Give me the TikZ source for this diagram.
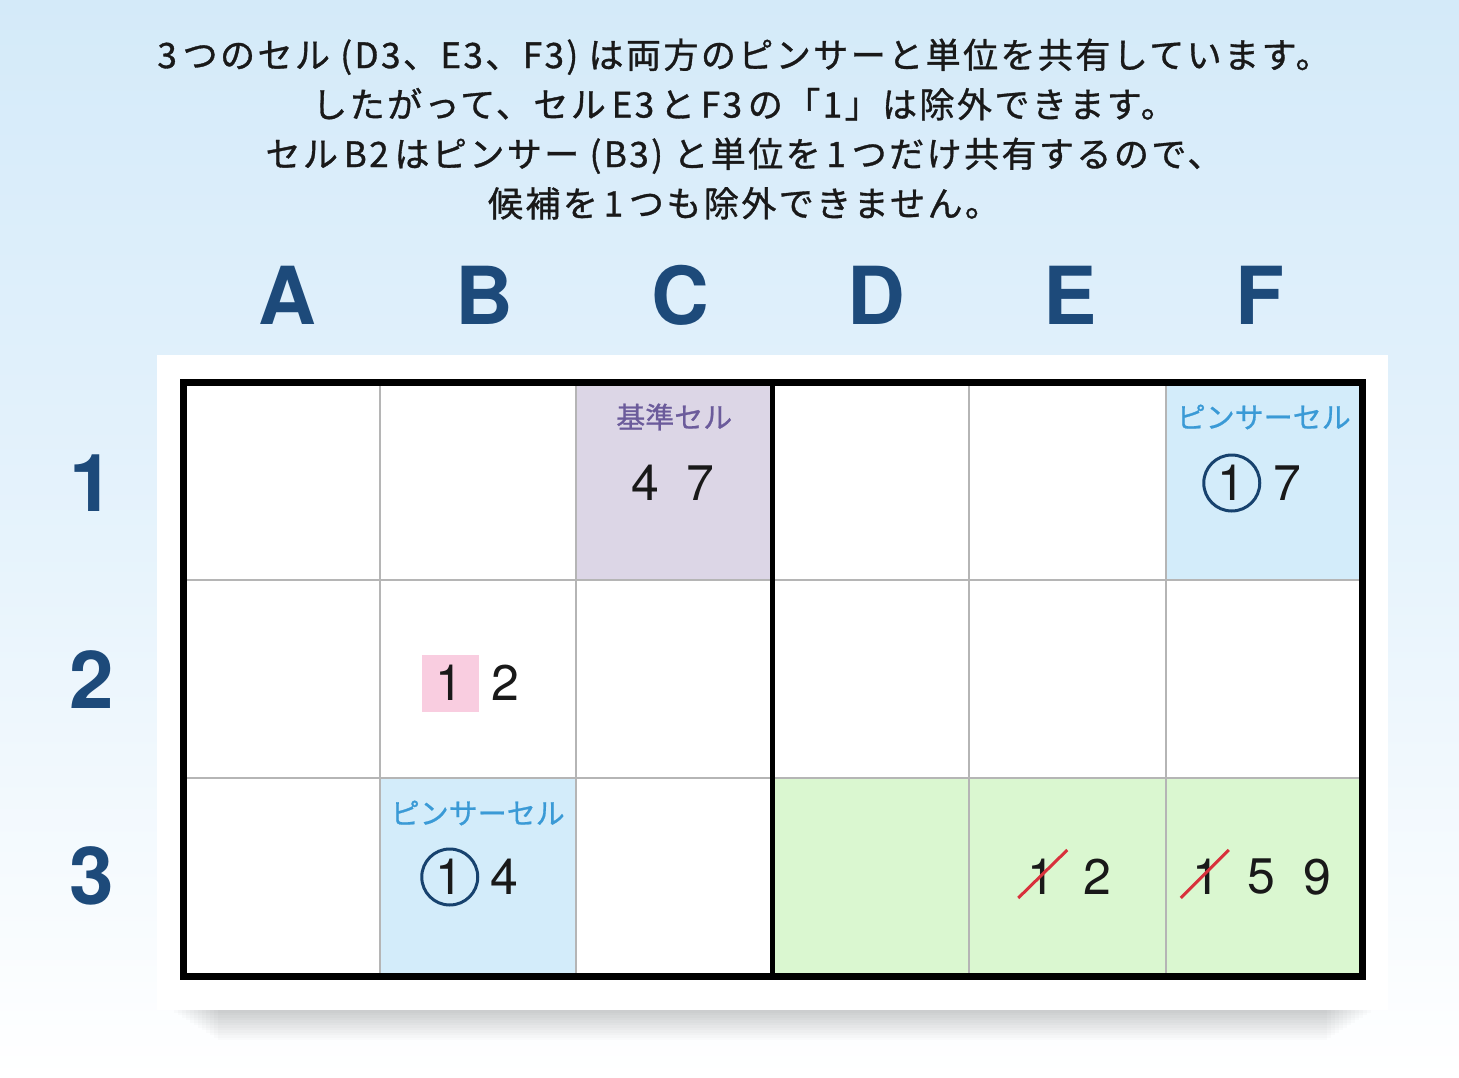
\documentclass[tikz,border=0pt]{standalone}
\usepackage{fontspec}
\setmainfont{TeX Gyre Heros}
\newfontfamily\jpfont{Noto Sans CJK JP}[FakeBold=0.8]
\newfontfamily\jptitle{Noto Sans CJK JP}[FakeBold=1.0, LetterSpace=7]
\usetikzlibrary{positioning}

\definecolor{bgtop}{HTML}{D4EAF9}
\definecolor{bgmid}{HTML}{E6F3FC}
\definecolor{headblue}{HTML}{1D4A7A}
\definecolor{gridgray}{HTML}{B5B5B5}
\definecolor{basefill}{HTML}{DCD6E6}
\definecolor{basetext}{HTML}{6B5B9B}
\definecolor{pincerfill}{HTML}{D3ECFA}
\definecolor{pincertext}{HTML}{3A9AD6}
\definecolor{sharefill}{HTML}{DAF7D0}
\definecolor{pinkfill}{HTML}{F9CDE0}
\definecolor{strikered}{HTML}{D8313C}
\definecolor{circnavy}{HTML}{17426E}

\tikzset{
  cell/.style={minimum width=196.5pt, minimum height=198pt, inner sep=0pt, outer sep=0pt},
  gridline/.style={draw=gridgray, line width=2pt},
  frame/.style={draw=black, line width=7pt},
  colhead/.style={font=\bfseries\fontsize{80}{80}\selectfont, text=headblue},
  rowhead/.style={font=\bfseries\fontsize{80}{80}\selectfont, text=headblue},
  celltag/.style={font=\jpfont\fontsize{29}{29}\selectfont, inner sep=0pt},
  cand/.style={font=\fontsize{50}{50}\selectfont, text=black!90, inner sep=0pt},
  pincer/.style={circle, draw=circnavy, line width=3pt, minimum size=56pt, inner sep=0pt,
    font=\fontsize{50}{50}\selectfont, text=black!90},
  strike/.style={draw=strikered, line width=3pt}
}

\begin{document}
\begin{tikzpicture}[x=1pt, y=-1pt]
  \useasboundingbox (0,0) rectangle (1459,1078);
  % Background
  \shade[top color=bgtop, bottom color=white, middle color=bgmid] (0,0) rectangle (1459,1078);
  \foreach \k in {1,...,12}
    \fill[black, opacity=0.015] (170+4*\k,1008) rectangle (1375-4*\k,1010+2.5*\k);
  \fill[white] (157,355) rectangle (1388,1010);
  % Title
  \node[font=\jptitle\fontsize{35}{49.5}\selectfont, text=black!90, align=center] (title) at (744,129)
    {3\,つのセル (D3、E3、F3) は両方のピンサーと単位を共有しています。\\
     したがって、セル\,E3\,と\,F3\,の「1」は除外できます。\\
     セル\,B2\,はピンサー (B3) と単位を\,1\,つだけ共有するので、\\
     候補を\,1\,つも除外できません。};
  % Cells
  \foreach \c [count=\i from 0] in {A,B,C,D,E,F}
    \foreach \r [count=\j from 0] in {1,2,3}
      \node[cell] (\c\r) at (281.25+196.5*\i, 481+198*\j) {};
  \fill[basefill] (C1.north west) rectangle (C1.south east);
  \fill[pincerfill] (F1.north west) rectangle (F1.south east);
  \fill[pincerfill] (B3.north west) rectangle (B3.south east);
  \fill[sharefill] (D3.north west) rectangle (F3.south east);
  \foreach \c in {A,B,C,D,E,F}
    \foreach \r in {1,2,3}
      \draw[gridline] (\c\r.north west) rectangle (\c\r.south east);
  \draw[frame] (A1.north west) rectangle (F3.south east);
  \draw[draw=black, line width=5pt] (D1.north west) -- (D3.south west);
  % Headings
  \foreach \c/\x in {A/287, B/484, C/680, D/876, E/1070, F/1260}
    \node[colhead] (h\c) at (\x,295) {\c};
  \foreach \r/\y in {1/483, 2/680, 3/876}
    \node[rowhead] (r\r) at (92,\y) {\r};
  % C1: base cell
  \node[celltag, text=basetext] (tagC) at ([yshift=-35pt]C1.north) {基準セル};
  \node[cand] (c1a) at ([xshift=-29pt, yshift=-2pt]C1.center) {4};
  \node[cand] (c1b) at ([xshift=26pt, yshift=-2pt]C1.center) {7};
  % F1: pincer
  \node[celltag, text=pincertext] (tagF) at ([yshift=-35pt]F1.north) {ピンサーセル};
  \node[pincer] (f1a) at ([xshift=-32pt, yshift=-2pt]F1.center) {1};
  \node[cand] (f1b) at ([xshift=24pt, yshift=-2pt]F1.center) {7};
  % B3: pincer
  \node[celltag, text=pincertext] (tagB) at ([yshift=-35pt]B3.north) {ピンサーセル};
  \node[pincer] (b3a) at ([xshift=-28pt, yshift=0pt]B3.center) {1};
  \node[cand] (b3b) at ([xshift=27pt, yshift=0pt]B3.center) {4};
  % B2
  \fill[pinkfill] ([xshift=-27.5pt, yshift=-4pt]B2.center) ++(-28.5,-28.5) rectangle ++(57,57);
  \node[cand] (b2a) at ([xshift=-28pt, yshift=-4pt]B2.center) {1};
  \node[cand] (b2b) at ([xshift=28pt, yshift=-4pt]B2.center) {2};
  % E3, F3: eliminated
  \node[cand] (e3a) at ([xshift=-26pt]E3.center) {1};
  \node[cand] (e3b) at ([xshift=30pt]E3.center) {2};
  \node[cand] (f3a) at ([xshift=-57pt]F3.center) {1};
  \node[cand] (f3b) at ([xshift=-2pt]F3.center) {5};
  \node[cand] (f3c) at ([xshift=54pt]F3.center) {9};
  \draw[strike] ([xshift=-23pt, yshift=-21pt]e3a.center) -- ([xshift=26pt, yshift=27pt]e3a.center);
  \draw[strike] ([xshift=-26pt, yshift=-21pt]f3a.center) -- ([xshift=22pt, yshift=27pt]f3a.center);
\end{tikzpicture}
\end{document}
